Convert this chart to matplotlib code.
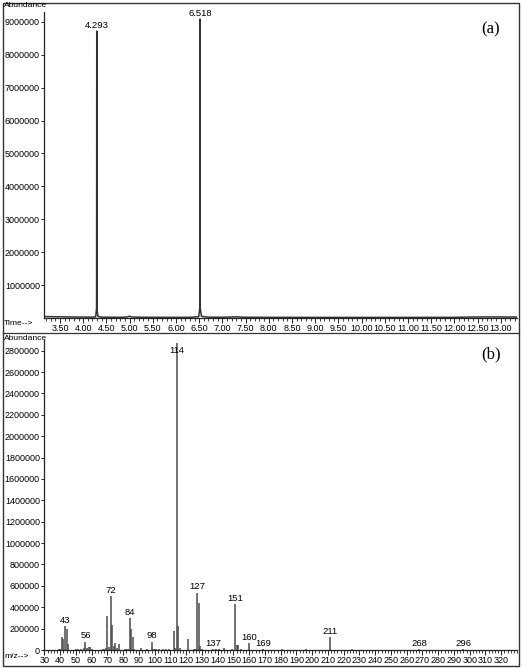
import matplotlib
matplotlib.use("Agg")
import matplotlib.pyplot as plt
from matplotlib.patches import Rectangle
from matplotlib.lines import Line2D
from matplotlib.ticker import MultipleLocator, FixedLocator

plt.rcParams['font.family'] = ['Liberation Sans', 'DejaVu Sans']

# ---- (a) total ion chromatogram ----
rt = [3.16, 3.40, 3.70, 4.00, 4.20, 4.27, 4.289, 4.293, 4.297, 4.32, 4.40, 4.80,
      4.95, 5.00, 5.05, 5.30, 5.80, 6.30, 6.49, 6.514, 6.518, 6.522, 6.55, 6.70,
      7.00, 7.30, 7.50, 8.00, 9.00, 10.00, 11.00, 12.00, 12.40, 12.80, 13.35]
tic = [45000, 38000, 32000, 28000, 26000, 35000, 300000, 8720000, 250000, 45000,
       25000, 22000, 30000, 55000, 30000, 22000, 20000, 20000, 40000, 300000,
       9080000, 300000, 50000, 25000, 22000, 35000, 22000, 20000, 18000, 18000,
       18000, 20000, 30000, 32000, 30000]
rt_labels = ["4.293", "6.518"]
rt_label_pos = [4.293, 6.518]
rt_label_val = [8720000, 9080000]

top_yticks = [1000000, 2000000, 3000000, 4000000, 5000000, 6000000, 7000000, 8000000, 9000000]
top_xticks = [3.5, 4.0, 4.5, 5.0, 5.5, 6.0, 6.5, 7.0, 7.5, 8.0, 8.5, 9.0, 9.5, 10.0,
              10.5, 11.0, 11.5, 12.0, 12.5, 13.0]

# ---- (b) mass spectrum ----
mz = [39, 40, 41, 42, 43, 44, 45, 50, 51, 53, 55, 56, 57, 58, 59, 60, 67, 68, 69,
      70, 71, 72, 73, 74, 75, 76, 77, 81, 82, 83, 84, 85, 86, 87, 91, 95, 98, 99,
      100, 101, 103, 105, 107, 109, 112, 113, 114, 115, 116, 121, 125, 126, 127,
      128, 129, 130, 137, 139, 141, 144, 149, 151, 152, 153, 155, 160, 169, 181,
      196, 211, 225, 268, 296]
abund = [12000, 8000, 121000, 105000, 222000, 192000, 56000, 5000, 6000, 8000,
         15000, 78000, 18000, 30000, 26000, 14000, 8000, 12000, 22000,
         318000, 30000, 505000, 234000, 36000, 66000, 22000, 58000, 6000, 8000,
         10000, 300000, 192000, 125000, 12000, 22000, 8000, 78000, 10000,
         9000, 8000, 10000, 9000, 8000, 7000, 181000, 20000, 2870000, 224000, 20000,
         103000, 8000, 12000, 536000, 442000, 37000, 8000, 10000, 6000, 8000,
         20000, 8000, 427000, 47000, 47000, 6000, 62000, 10000, 5000,
         5000, 118000, 5000, 8000, 8000]
ms_labels = [43, 56, 72, 84, 98, 114, 127, 137, 151, 160, 169, 211, 268, 296]

bot_yticks = [0, 200000, 400000, 600000, 800000, 1000000, 1200000, 1400000, 1600000,
              1800000, 2000000, 2200000, 2400000, 2600000, 2800000]
bot_xticks = list(range(30, 330, 10))

W, H = 522, 668
fig = plt.figure(figsize=(W / 100, H / 100), dpi=100)
fig.patch.set_facecolor('white')

fs = 6.5

def style(ax):
    for s in ['top', 'right']:
        ax.spines[s].set_visible(False)
    for s in ['left', 'bottom']:
        ax.spines[s].set_linewidth(0.9)
        ax.spines[s].set_color('#222222')
    ax.tick_params(axis='both', which='major', labelsize=fs, direction='out',
                   color='#222222', width=0.7)
    ax.tick_params(axis='y', which='major', length=2, pad=1)
    ax.tick_params(axis='x', which='major', length=3.5, pad=1)
    ax.tick_params(axis='x', which='minor', length=2, width=0.6, direction='out',
                   color='#222222')

# top axes
axa = fig.add_axes([44 / W, 1 - 318 / H, 473 / W, (318 - 12) / H])
axa.plot(rt, tic, color='#333333', lw=1.1)
axa.set_xlim(3.156, 13.35)
axa.set_ylim(0, 9300000)
axa.yaxis.set_major_locator(FixedLocator(top_yticks))
axa.set_yticklabels([str(v) for v in top_yticks])
axa.xaxis.set_major_locator(FixedLocator(top_xticks))
axa.set_xticklabels(["%.2f" % v for v in top_xticks])
axa.xaxis.set_minor_locator(MultipleLocator(0.1))
style(axa)
for lab, x, v in zip(rt_labels, rt_label_pos, rt_label_val):
    axa.annotate(lab, (x, v), xytext=(0, 1), textcoords='offset points',
                 ha='center', va='bottom', fontsize=fs + 0.3)
axa.text(0.945, 0.943, "(a)", transform=axa.transAxes, family='Liberation Serif',
         fontsize=12, ha='center', va='center')

# bottom axes
axb = fig.add_axes([44 / W, 1 - 650 / H, 473 / W, (650 - 340) / H])
axb.vlines(mz, 0, abund, color='#4a4a4a', lw=1.1)
axb.set_xlim(29.7, 330)
axb.set_ylim(0, 2900000)
axb.yaxis.set_major_locator(FixedLocator(bot_yticks))
axb.set_yticklabels([str(v) for v in bot_yticks])
axb.xaxis.set_major_locator(FixedLocator(bot_xticks))
axb.set_xticklabels([str(v) for v in bot_xticks])
axb.xaxis.set_minor_locator(MultipleLocator(2))
style(axb)
for m in ms_labels:
    v = abund[mz.index(m)]
    if m == 114:
        axb.annotate(str(m), (m, v), xytext=(0, -2), textcoords='offset points',
                     ha='center', va='top', fontsize=fs + 0.3)
    else:
        axb.annotate(str(m), (m, v), xytext=(0, 1), textcoords='offset points',
                     ha='center', va='bottom', fontsize=fs + 0.3)
axb.text(0.945, 0.955, "(b)", transform=axb.transAxes, family='Liberation Serif',
         fontsize=12, ha='center', va='center')

# corner labels
fig.text(4 / W, 1 - 5.5 / H, "Abundance", fontsize=fs - 0.4, ha='left', va='center')
fig.text(4 / W, 1 - 338 / H, "Abundance", fontsize=fs - 0.4, ha='left', va='center')
fig.text(4 / W, 1 - 324 / H, "Time-->", fontsize=fs - 0.4, ha='left', va='center')
fig.text(4 / W, 1 - 656 / H, "m/z-->", fontsize=fs - 0.4, ha='left', va='center')

# outer frame and separator
fig.add_artist(Rectangle((2.5 / W, 2.5 / H), 516 / W, 663 / H, transform=fig.transFigure,
                         fill=False, lw=1.0, edgecolor='#333333'))
fig.add_artist(Line2D([2.5 / W, 518.5 / W], [1 - 333 / H, 1 - 333 / H],
                      transform=fig.transFigure, lw=0.9, color='#333333'))

fig.savefig("out.png", dpi=100, facecolor='white')
